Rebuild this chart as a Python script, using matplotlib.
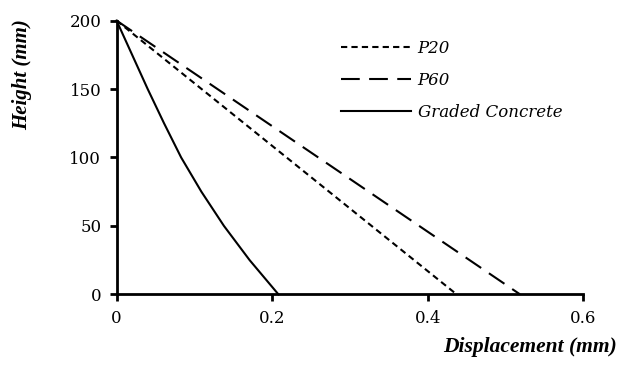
import matplotlib
matplotlib.use('Agg')
import matplotlib.pyplot as plt

# data
p20_x = [0.0, 0.437]
p20_h = [200, 0]
p60_x = [0.0, 0.5185]
p60_h = [200, 0]
graded_h = [200, 175, 150, 125, 100, 75, 50, 25, 0]
graded_x = [0.0, 0.020, 0.040, 0.061, 0.083, 0.109, 0.138, 0.171, 0.208]

x_ticks = [0, 0.2, 0.4, 0.6]
x_ticklabels = ['0', '0.2', '0.4', '0.6']
y_ticks = [0, 50, 100, 150, 200]

fig = plt.figure(figsize=(6.2, 3.74), dpi=100)
ax = fig.add_axes([0.188, 0.213, 0.753, 0.732])

lw = 1.5
ax.plot(p20_x, p20_h, color='k', lw=lw, dashes=(3, 2), label='P20', clip_on=False)
ax.plot(p60_x, p60_h, color='k', lw=lw, dashes=(9, 4.5), label='P60', clip_on=False)
ax.plot(graded_x, graded_h, color='k', lw=lw, label='Graded Concrete', clip_on=False)

ax.set_xlim(0, 0.6)
ax.set_ylim(0, 200)
ax.set_xticks(x_ticks)
ax.set_xticklabels(x_ticklabels)
ax.set_yticks(y_ticks)

for s in ['top', 'right']:
    ax.spines[s].set_visible(False)
for s in ['left', 'bottom']:
    ax.spines[s].set_linewidth(2)

ax.tick_params(direction='out', length=5, width=2, labelsize=12, pad=6)
for lab in ax.get_xticklabels() + ax.get_yticklabels():
    lab.set_family('DejaVu Serif')

fig.text(0.035, 0.8, 'Height (mm)', rotation=90, ha='center', va='center',
         family='Liberation Serif', style='italic', weight='bold', fontsize=15)
fig.text(0.995, 0.072, 'Displacement (mm)', ha='right', va='center',
         family='Liberation Serif', style='italic', weight='bold', fontsize=15.5)

leg = ax.legend(loc='upper left', bbox_to_anchor=(0.55, 0.893),
                bbox_transform=fig.transFigure, frameon=False,
                handlelength=4.2, handletextpad=0.4, labelspacing=0.9,
                borderpad=0, borderaxespad=0,
                prop={'family': 'DejaVu Serif', 'style': 'italic', 'size': 12})

fig.savefig('out.png', dpi=100)
